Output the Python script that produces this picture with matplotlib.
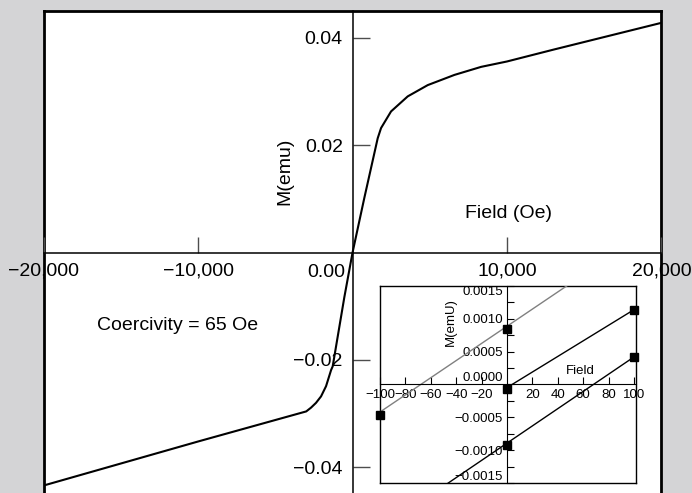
import matplotlib.pyplot as plt
from matplotlib.ticker import FuncFormatter, FixedLocator

plt.rcParams['font.family'] = ['Liberation Sans', 'DejaVu Sans']

# main loop (field in Oe, moment in emu)
field = [-20000, -10000, -3000, -2690, -2365, -2040, -1716, -1390, -1285, -530, 0,
         765, 1630, 1847, 2495, 3575, 4870, 6600, 8330, 10000, 13000, 20000]
moment = [-0.0434, -0.0352, -0.0296, -0.0289, -0.0280, -0.0268, -0.0249, -0.0219, -0.0212, -0.0083, 0.0,
          0.0102, 0.0213, 0.0232, 0.0263, 0.0291, 0.0312, 0.0331, 0.0346, 0.0356, 0.0378, 0.0428]

# inset, low field region
gray_field = [-100, 50]
gray_m = [-0.00042, 0.00154]
upper_field = [4, 100]
upper_m = [0.0, 0.00114]
lower_field = [-50, 100]
lower_m = [-0.00155, 0.00042]
pts_field = [-100, 0, 0, 0, 100, 100]
pts_m = [-0.00047, 0.00085, -0.00007, -0.00092, 0.00114, 0.00042]

main_xticks = [-20000, -10000, 10000, 20000]
main_yticks = [-0.04, -0.02, 0.02, 0.04]
inset_xticks = [-100, -80, -60, -40, -20, 20, 40, 60, 80, 100]
inset_yticks = [-0.0015, -0.00125, -0.001, -0.00075, -0.0005, -0.00025, 0.0,
                0.00025, 0.0005, 0.00075, 0.001, 0.00125, 0.0015]

fig = plt.figure(figsize=(6.92, 4.93), dpi=100)
fig.patch.set_facecolor('#d4d4d6')

main_rect = [0.0632, 0.0, 0.8925, 0.9787]

# frame behind the main plot
frame = fig.add_axes(main_rect)
frame.set_facecolor('white')
frame.set_xticks([])
frame.set_yticks([])
for side in ['left', 'right', 'top']:
    frame.spines[side].set_linewidth(2)
frame.spines['bottom'].set_visible(False)

ax = fig.add_axes(main_rect)
ax.patch.set_alpha(0)
ax.plot(field, moment, color='black', lw=1.5)
ax.set_xlim(-20000, 20000)
ax.set_ylim(-0.0448, 0.0451)
ax.spines['left'].set_position('zero')
ax.spines['bottom'].set_position('zero')
ax.spines['right'].set_visible(False)
ax.spines['top'].set_visible(False)
for side in ['left', 'bottom']:
    ax.spines[side].set_linewidth(1.1)
ax.set_xticks(main_xticks)
ax.set_yticks(main_yticks)
ax.xaxis.set_major_formatter(FuncFormatter(lambda v, p: f'{v:,.0f}'.replace('-', '\u2212')))
ax.yaxis.set_major_formatter(FuncFormatter(lambda v, p: f'{v:.2f}'.replace('-', '\u2212')))
ax.tick_params(axis='x', direction='in', length=11.5, width=1, color='0.3', pad=7, labelsize=14)
ax.tick_params(axis='y', direction='in', length=12, width=1, color='0.3', pad=7, labelsize=14)
ax.annotate('0.00', (0, 0), xytext=(-5, -8), textcoords='offset points',
            ha='right', va='top', fontsize=14)

ax.text(-4400, 0.0152, 'M(emu)', rotation=90, ha='center', va='center', fontsize=14)
ax.text(10080, 0.0072, 'Field (Oe)', ha='center', va='center', fontsize=14)
ax.text(-11310, -0.0135, 'Coercivity = 65 Oe', ha='center', va='center', fontsize=14)

# inset
in_rect = [0.549, 0.0203, 0.370, 0.3996]
in_frame = fig.add_axes(in_rect)
in_frame.set_facecolor('white')
in_frame.set_xticks([])
in_frame.set_yticks([])
for side in in_frame.spines:
    in_frame.spines[side].set_linewidth(1)

ins = fig.add_axes(in_rect)
ins.patch.set_alpha(0)
ins.plot(gray_field, gray_m, color='#808080', lw=1)
ins.plot(upper_field, upper_m, color='black', lw=1)
ins.plot(lower_field, lower_m, color='black', lw=1)
ins.plot(pts_field, pts_m, 's', color='black', ms=6, clip_on=False, zorder=5)
ins.set_xlim(-100, 101.5)
ins.set_ylim(-0.0015, 0.0015)
ins.spines['left'].set_position('zero')
ins.spines['bottom'].set_position('zero')
ins.spines['right'].set_visible(False)
ins.spines['top'].set_visible(False)
ins.xaxis.set_major_locator(FixedLocator(inset_xticks))
ins.yaxis.set_major_locator(FixedLocator(inset_yticks))
ins.xaxis.set_major_formatter(FuncFormatter(lambda v, p: f'{v:.0f}'.replace('-', '\u2212')))


def inset_ylabel(v, p):
    if round(v / 0.00025) % 2:
        return ''
    return f'{v:.4f}'.replace('-', '\u2212')


ins.yaxis.set_major_formatter(FuncFormatter(inset_ylabel))
ins.tick_params(axis='both', direction='in', length=5, width=0.8, pad=3, labelsize=9.5)

# edge labels sit inside the box, the zero label sits above the field axis
fig.canvas.draw()
for tick, v in zip(ins.yaxis.get_major_ticks(), inset_yticks):
    if v == 0.0015:
        tick.label1.set_verticalalignment('top')
    elif v == -0.0015:
        tick.label1.set_verticalalignment('bottom')
    elif v == 0.0:
        tick.label1.set_verticalalignment('bottom')

ins.text(-44, 0.00095, 'M(emU)', rotation=90, ha='center', va='center', fontsize=9.5)
ins.text(58, 0.0002, 'Field', ha='center', va='center', fontsize=9.5)

fig.savefig('out.png', dpi=100, facecolor=fig.get_facecolor())
